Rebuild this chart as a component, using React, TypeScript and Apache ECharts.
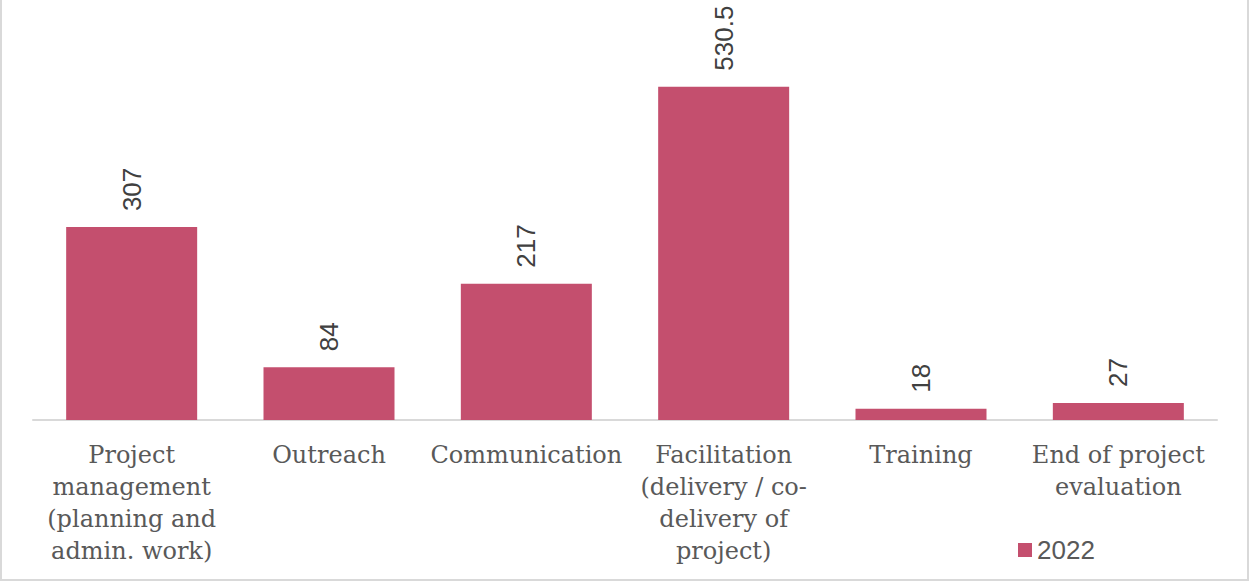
import React, { useEffect, useRef } from "react";
import * as echarts from "echarts";

const categories = [
  "Project\nmanagement\n(planning and\nadmin. work)",
  "Outreach",
  "Communication",
  "Facilitation\n(delivery / co-\ndelivery of\nproject)",
  "Training",
  "End of project\nevaluation",
];
const values2022 = [307, 84, 217, 530.5, 18, 27];
const seriesName = "2022";

export default function App() {
  const ref = useRef<HTMLDivElement>(null);
  useEffect(() => {
    if (!ref.current) return;
    const chart = echarts.init(ref.current, null, { renderer: "svg" });
    chart.setOption({
      animation: false,
      backgroundColor: "#ffffff",
      grid: { left: 33, right: 32, top: 43, bottom: 162 },
      legend: {
        data: [seriesName],
        left: 1013,
        top: 532,
        itemWidth: 14,
        itemHeight: 14,
        itemGap: 6,
        icon: "rect",
        textStyle: {
          fontFamily: "Liberation Sans",
          fontSize: 26,
          color: "#595959",
        },
      },
      graphic: [
        {
          type: "rect",
          shape: { x: 1, y: -10, width: 1247, height: 590 },
          style: { fill: "none", stroke: "#d9d9d9", lineWidth: 2 },
          silent: true,
        },
      ],
      xAxis: {
        type: "category",
        data: categories,
        axisLine: { lineStyle: { color: "#d9d9d9", width: 2 } },
        axisTick: { show: false },
        axisLabel: {
          interval: 0,
          margin: 19,
          fontFamily: "DejaVu Serif",
          fontSize: 24,
          lineHeight: 32,
          color: "#595959",
          align: "center",
        },
      },
      yAxis: {
        type: "value",
        min: 0,
        max: 600,
        show: false,
        splitLine: { show: false },
      },
      series: [
        {
          name: seriesName,
          type: "bar",
          data: values2022,
          barWidth: 131,
          itemStyle: { color: "#c44f6e" },
          label: {
            show: true,
            position: "top",
            rotate: 90,
            align: "left",
            verticalAlign: "middle",
            distance: 16,
            fontFamily: "Liberation Sans",
            fontSize: 26,
            color: "#404040",
          },
        },
      ],
    });
    return () => chart.dispose();
  }, []);
  return (
    <div
      ref={ref}
      style={{ position: "absolute", left: 0, top: 0, width: 1249, height: 582 }}
    />
  );
}
